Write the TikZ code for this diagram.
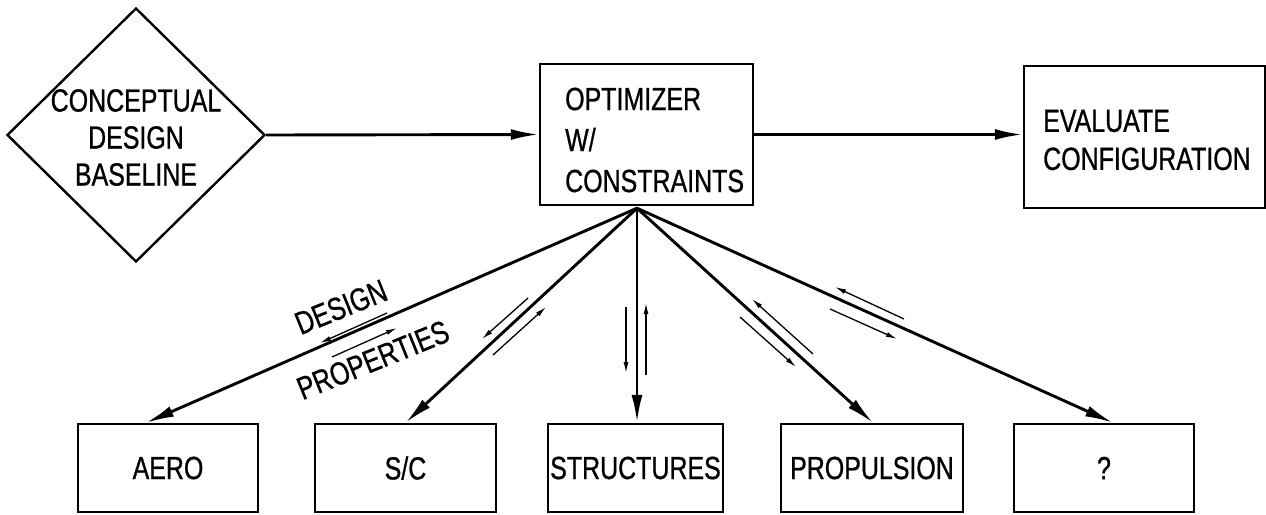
\documentclass[tikz,border=0pt]{standalone}
\usepackage{fontspec}
\setmainfont{Liberation Sans}[FakeStretch=0.78,FakeBold=0.8]
\usetikzlibrary{shapes.geometric,arrows.meta}
\begin{document}
\begin{tikzpicture}[x=1pt,y=-1pt,
  every node/.style={font=\fontsize{32}{41}\selectfont},
  blk/.style={draw,line width=2.4pt,inner sep=0pt},
  sub/.style={blk,minimum height=88pt},
  txt/.style={inner sep=0pt,align=left},
  flow/.style={line width=2.9pt,-{Latex[length=28pt,width=11pt]}},
  hint/.style={line width=1.3pt,-{Latex[length=11pt,width=5pt]}},
]
\useasboundingbox (0,0) rectangle (1266,514);

% top row
\node[blk,diamond,minimum width=258pt,minimum height=254pt] (base) at (136,135) {};
\node[inner sep=0pt,align=center,font=\fontsize{32}{37}\selectfont] (basetxt) at (136,137.5)
  {CONCEPTUAL\\DESIGN\\BASELINE};

\node[blk,minimum width=213pt,minimum height=141pt] (opt) at (646.5,134.5) {};
\node[txt,anchor=west] (opttxt) at (565,140) {OPTIMIZER\\W/\\CONSTRAINTS};

\node[blk,minimum width=241pt,minimum height=142pt] (eval) at (1144.5,137) {};
\node[txt,anchor=west,font=\fontsize{32}{38}\selectfont] (evaltxt) at (1043,140) {EVALUATE\\CONFIGURATION};

\draw[flow] (base.east) -- (opt.west);
\draw[flow] (opt.east) -- (opt.east -| eval.west);

% subsystem row
\node[sub,minimum width=180pt] (aero)   at (168,468)   {AERO};
\node[sub,minimum width=181pt] (sc)     at (405.5,468) {S/C};
\node[sub,minimum width=175pt] (struct) at (635.5,468) {STRUCTURES};
\node[sub,minimum width=182pt] (prop)   at (872,468)   {PROPULSION};
\node[sub,minimum width=180pt] (what)   at (1104,468)  {?};

% fan of links from the optimizer
\coordinate (hub) at ([xshift=-9.5pt,yshift=-2pt]opt.south);
\draw[flow] (hub) -- ([xshift=-22pt]aero.north);
\draw[flow] (hub) -- (sc.north);
\draw[flow] (hub) -- ([xshift=1.5pt]struct.north);
\draw[flow] (hub) -- ([xshift=1pt]prop.north);
\draw[flow] (hub) -- ([xshift=9pt]what.north);

% design / properties exchange along each link
\draw[hint] (387,313) -- (320,343);
\draw[hint] (332,357) -- (397,328);
\node[inner sep=0pt,rotate=22] (dlab) at (341,307) {DESIGN};
\node[inner sep=0pt,rotate=22] (plab) at (373,360) {PROPERTIES};

\draw[hint] (528,298) -- (482,339);
\draw[hint] (493,355) -- (546,307);

\draw[hint] (626,307) -- (626,373);
\draw[hint] (646,375) -- (646,303);

\draw[hint] (740,317) -- (796,367);
\draw[hint] (813,354) -- (752,299);

\draw[hint] (904,319) -- (835,287);
\draw[hint] (830,309) -- (897,339);
\end{tikzpicture}
\end{document}
